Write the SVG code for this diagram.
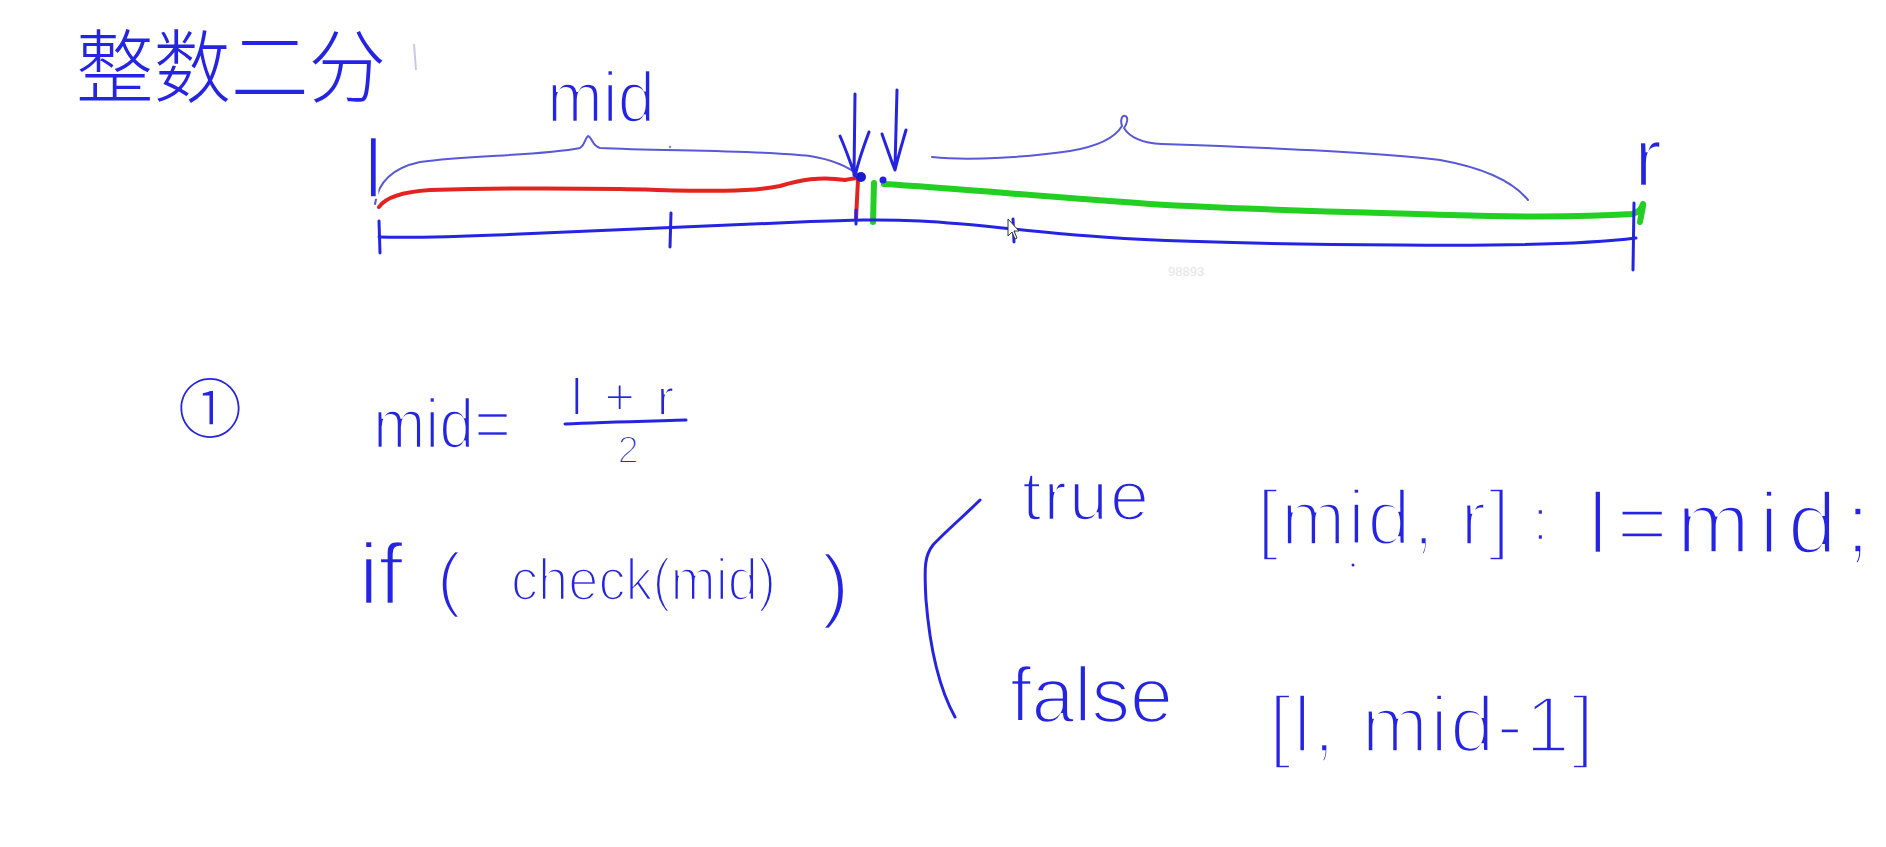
<svg xmlns="http://www.w3.org/2000/svg" width="1886" height="847" viewBox="0 0 1886 847">
<style>
.ink{fill:#2424e2;font-family:"Liberation Sans","Noto Sans CJK SC",sans-serif;stroke:#ffffff;stroke-width:2.6;}
.thin{stroke-width:1.8;}
.big{stroke-width:3.4;}
.cjk{fill:#2424e2;font-family:"Noto Sans CJK SC",sans-serif;font-weight:300;}
.ln{fill:none;stroke:#2424e2;stroke-width:3;stroke-linecap:round;stroke-linejoin:round;}
.br{fill:none;stroke:#5858d8;stroke-width:2;stroke-linecap:round;}
.red{fill:none;stroke:#e52222;stroke-width:4;stroke-linecap:round;}
.grn{fill:none;stroke:#22cf22;stroke-width:6;stroke-linecap:round;}
</style>
<rect x="0" y="0" width="1886" height="847" fill="#ffffff"/>

<g id="title">
<text class="cjk" x="76" y="96" font-size="80" textLength="310" lengthAdjust="spacingAndGlyphs">整数二分</text>
<path d="M414,44 L416,70" stroke="#c8c8e8" stroke-width="2" fill="none"/>
</g>

<g id="number-line">
<path class="br" d="M375,204 C378,182 392,168 420,162 C470,155 540,156 580,148 C585,145 585,138 588,136 C592,137 592,146 600,148 C660,151 760,150 810,156 C835,160 850,168 860,176"/>
<path class="br" d="M932,157 C970,161 1030,157 1070,151 C1100,146 1116,136 1122,126 C1120,120 1122,115 1125,116 C1129,117 1127,124 1124,128 C1130,138 1142,143 1162,144 C1250,147 1380,152 1440,160 C1490,169 1515,184 1528,200"/>
<path class="red" d="M379,207 C385,198 400,192 430,190 C500,188 560,188 620,189 C680,190 740,194 780,186 C800,180 820,176 845,180 C850,179 856,178 858,178"/>
<path class="red" d="M858,180 L856,219" stroke-width="3"/>
<path class="grn" d="M884,184 C950,188 1050,197 1150,204 C1250,210 1350,212 1450,215 C1550,218 1600,216 1632,214 C1640,212 1642,208 1643,204"/>
<path class="grn" d="M874,183 L873,222" stroke-width="3"/>
<path class="grn" d="M1643,206 L1640,222" stroke-width="3"/>
<path class="ln" d="M379,237 C430,238 470,236 520,234 C600,230 700,226 800,222 C850,220 880,219 920,221 C980,224 1030,232 1090,236 C1150,241 1250,244 1400,245 C1500,246 1580,245 1636,238"/>
<path class="ln" d="M379,221 L380,253 M671,213 L670,247 M1013,219 L1014,242 M1634,203 L1633,270 M856,210 L856,224"/>
<path d="M1008,219 L1008,236 L1012,232 L1015,239 L1017,238 L1014,231 L1019,231 Z" fill="#ffffff" stroke="#333333" stroke-width="1"/>
<path class="ln" d="M855,94 L854,175 M840,136 C847,152 851,164 855,176 C858,163 863,148 869,132" stroke-width="3.5"/>
<path class="ln" d="M897,90 L895,168 M882,134 C887,148 891,160 895,170 C898,157 902,144 906,130" stroke-width="4"/>
<circle cx="861" cy="177" r="5" fill="#1a1ad0"/>
<circle cx="883" cy="180" r="3.5" fill="#2424e2"/>
<circle cx="670" cy="147" r="1.2" fill="#8888cc"/>
<text class="ink" x="547" y="122" font-size="72" textLength="108" lengthAdjust="spacingAndGlyphs">mid</text>
<text class="ink" x="364" y="198" font-size="84">l</text>
<text class="ink" x="1634" y="186" font-size="84">r</text>
<text x="1168" y="276" font-size="13" fill="#e4e4e4" font-family="Liberation Sans, sans-serif">98893</text>
</g>

<g id="step1">
<text class="cjk" x="210" y="432" font-size="64" text-anchor="middle">①</text>
<text class="ink" x="373" y="448" font-size="70" textLength="138" lengthAdjust="spacingAndGlyphs">mid=</text>
<text class="ink thin" x="571" y="415" font-size="52" textLength="103" lengthAdjust="spacing">l+r</text>
<path class="ln" d="M565,424 C600,422 650,421 686,420"/>
<text class="ink thin" x="628" y="463" font-size="38" text-anchor="middle">2</text>
</g>

<g id="condition">
<text class="ink" x="359" y="604" font-size="88">if</text>
<text class="ink" x="437" y="603" font-size="72">(</text>
<text class="ink" x="511" y="600" font-size="60" textLength="265" lengthAdjust="spacingAndGlyphs">check(mid)</text>
<text class="ink" x="822" y="612" font-size="82">)</text>
</g>

<g id="branches">
<path class="ln" d="M980,500 C965,515 945,532 933,545 C925,555 924,565 926,600 C930,650 940,690 955,717" stroke-width="2.5"/>
<text class="ink" x="1022" y="520" font-size="70" textLength="127" lengthAdjust="spacing">true</text>
<text class="ink big" x="1257" y="545" font-size="78" textLength="253" lengthAdjust="spacing">[mid, r]</text>
<text class="ink" x="1532" y="540" font-size="60">:</text>
<text class="ink big" x="1588" y="553" font-size="88" textLength="282" lengthAdjust="spacing">l=mid;</text>
<circle cx="1353" cy="565" r="1.5" fill="#2424e2"/>
<text class="ink" x="1010" y="722" font-size="78" textLength="163" lengthAdjust="spacingAndGlyphs">false</text>
<text class="ink big" x="1269" y="752" font-size="80" textLength="325" lengthAdjust="spacing">[l, mid-1]</text>
</g>
</svg>
